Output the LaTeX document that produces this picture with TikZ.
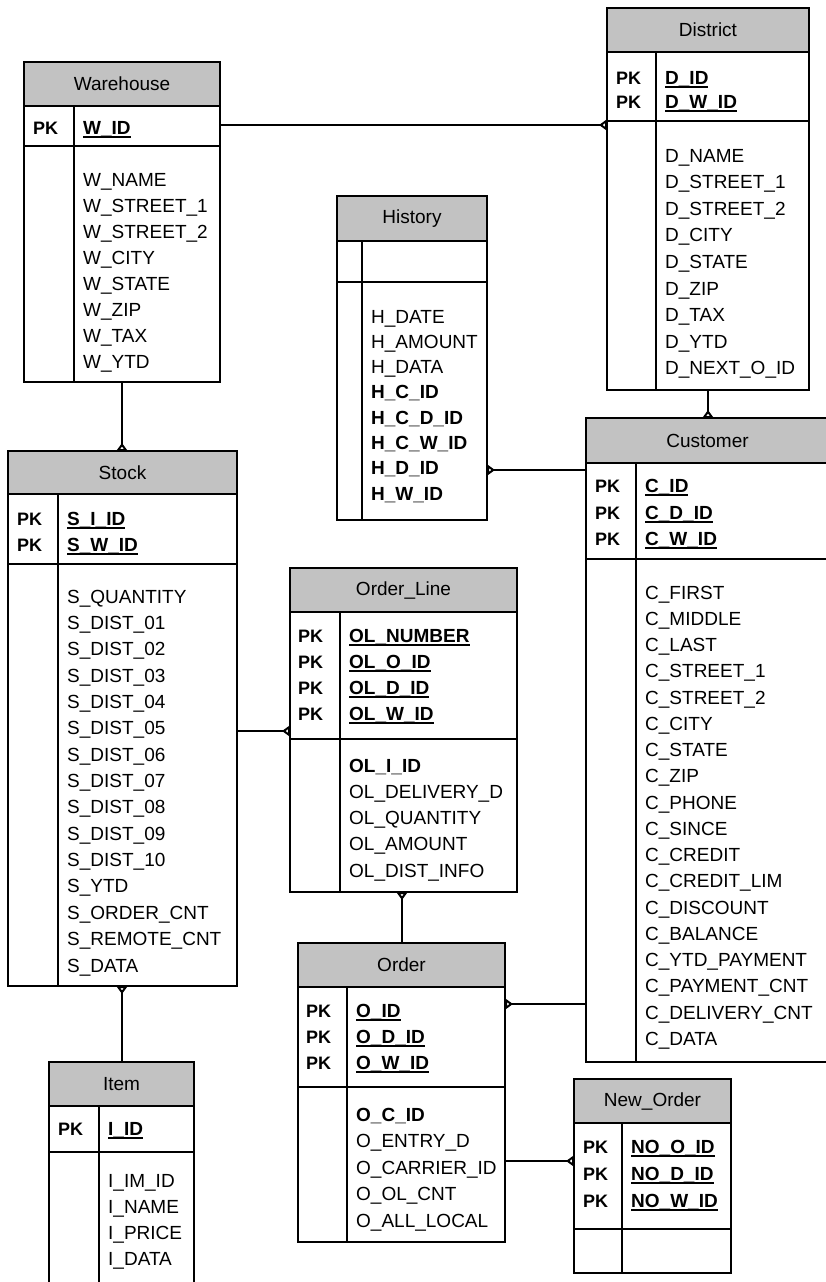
\documentclass[tikz,border=0pt]{standalone}
\usepackage{fontspec}
\setmainfont{Liberation Sans}
\usetikzlibrary{arrows.meta,fit}
\newcommand\ulk[1]{\setbox0\hbox{#1}\rlap{\rule[-4pt]{\wd0}{1.8pt}}\box0}
\tikzset{
 ent/.style={line width=1.8pt},
 ebox/.style={draw, line width=1.8pt, inner sep=0pt, outer sep=0pt},
 hdr/.style={fill=black!24},
 etitle/.style={font=\fontsize{19}{22}\selectfont, inner sep=0pt},
 txt/.style={font=\fontsize{19}{22}\selectfont, inner sep=0pt, anchor=base west},
 pk/.style={font=\fontsize{18}{22}\selectfont\bfseries, inner sep=0pt, anchor=base west},
 conn/.style={line width=1.8pt},
 cf/.style={-{Triangle[open,fill=white,reversed,length=8pt 0 0,width=11pt 0 0,line width=2pt]}},
}
% name, L, T, R, B, header bottom, key bottom, divider x, title
\newcommand\entity[9]{%
 \fill[hdr] (#2,#3) rectangle (#4,#6);
 \node[ebox, fit={(#2,#3) (#4,#5)}] (#1) {};
 \draw[ent] (#2,#6) -- (#4,#6) (#2,#7) -- (#4,#7) (#8,#6) -- (#8,#5);
 \node[etitle] (#1-title) at ({(#2+#4)/2},{(#3+#6)/2}) {#9};
}
% name, PK x, key x, list y/text
\newcommand\keys[4]{%
 \foreach \yy/\kk [count=\i] in {#4} {%
  \node[pk] (#1-pk\i) at (#2,\yy+7) {PK};
  \node[txt] (#1-k\i) at (#3,\yy+7) {\bfseries\ulk{\kk}};
 }%
}
% name, x, y0, step, list
\newcommand\attrs[5]{%
 \foreach \aa [count=\i] in {#5} {%
  \node[txt] (#1-a\i) at (#2,{#3+(\i-1)*#4+7}) {\aa};
 }%
}
\begin{document}
\begin{tikzpicture}[x=1pt,y=-1pt]
\useasboundingbox (0,0) rectangle (826,1282);
\fill[white] (0,0) rectangle (826,1282);
\clip (0,0) rectangle (826,1282);

% Warehouse
\entity{wh}{24}{62}{220}{382}{106}{146}{74}{Warehouse}
\keys{wh}{33}{83}{127/W\_ID}
\attrs{wh}{83}{179}{26}{W\_NAME, W\_STREET\_1, W\_STREET\_2, W\_CITY, W\_STATE, W\_ZIP, W\_TAX, W\_YTD}

% District
\entity{di}{607}{8}{809}{390}{52}{121}{656}{District}
\keys{di}{616}{665}{77/D\_ID, 101/D\_W\_ID}
\attrs{di}{665}{155}{26.6}{D\_NAME, D\_STREET\_1, D\_STREET\_2, D\_CITY, D\_STATE, D\_ZIP, D\_TAX, D\_YTD, D\_NEXT\_O\_ID}

% History
\entity{hi}{337}{196}{487}{520}{241}{282}{362}{History}
\attrs{hi}{371}{316}{25.3}{H\_DATE, H\_AMOUNT, H\_DATA, \textbf{H\_C\_ID}, \textbf{H\_C\_D\_ID}, \textbf{H\_C\_W\_ID}, \textbf{H\_D\_ID}, \textbf{H\_W\_ID}}

% Customer
\entity{cu}{586}{418}{829}{1062}{463}{559}{636}{Customer}
\keys{cu}{595}{645}{485/C\_ID, 512/C\_D\_ID, 538/C\_W\_ID}
\attrs{cu}{645}{592}{26.25}{C\_FIRST, C\_MIDDLE, C\_LAST, C\_STREET\_1, C\_STREET\_2, C\_CITY, C\_STATE, C\_ZIP, C\_PHONE, C\_SINCE, C\_CREDIT, C\_CREDIT\_LIM, C\_DISCOUNT, C\_BALANCE, C\_YTD\_PAYMENT, C\_PAYMENT\_CNT, C\_DELIVERY\_CNT, C\_DATA}

% Stock
\entity{st}{8}{451}{237}{986}{494}{564}{58}{Stock}
\keys{st}{17}{67}{518/S\_I\_ID, 544/S\_W\_ID}
\attrs{st}{67}{596}{26.36}{S\_QUANTITY, S\_DIST\_01, S\_DIST\_02, S\_DIST\_03, S\_DIST\_04, S\_DIST\_05, S\_DIST\_06, S\_DIST\_07, S\_DIST\_08, S\_DIST\_09, S\_DIST\_10, S\_YTD, S\_ORDER\_CNT, S\_REMOTE\_CNT, S\_DATA}

% Order_Line
\entity{ol}{290}{568}{517}{892}{612}{739}{340}{Order\_Line}
\keys{ol}{298}{349}{635/OL\_NUMBER, 661/OL\_O\_ID, 687/OL\_D\_ID, 713/OL\_W\_ID}
\attrs{ol}{349}{765}{26.25}{\textbf{OL\_I\_ID}, OL\_DELIVERY\_D, OL\_QUANTITY, OL\_AMOUNT, OL\_DIST\_INFO}

% Order
\entity{ord}{298}{943}{505}{1242}{987}{1087}{347}{Order}
\keys{ord}{306}{356}{1010/O\_ID, 1036/O\_D\_ID, 1062/O\_W\_ID}
\attrs{ord}{356}{1114}{26.5}{\textbf{O\_C\_ID}, O\_ENTRY\_D, O\_CARRIER\_ID, O\_OL\_CNT, O\_ALL\_LOCAL}

% New_Order
\entity{no}{574}{1079}{731}{1273}{1123}{1229}{622}{New\_Order}
\keys{no}{583}{631}{1146/NO\_O\_ID, 1173/NO\_D\_ID, 1200/NO\_W\_ID}

% Item
\entity{it}{49}{1062}{194}{1295}{1106}{1152}{99}{Item}
\keys{it}{58}{108}{1128/I\_ID}
\attrs{it}{108}{1180}{26.3}{I\_IM\_ID, I\_NAME, I\_PRICE, I\_DATA}

% Connectors
\draw[conn,cf] (wh.east |- 0,125) -- (di.west |- 0,125);
\draw[conn,cf] (122,0 |- wh.south) -- (122,0 |- st.north);
\draw[conn,cf] (708,0 |- di.south) -- (708,0 |- cu.north);
\draw[conn,cf] (cu.west |- 0,470) -- (hi.east |- 0,470);
\draw[conn,cf] (st.east |- 0,731) -- (ol.west |- 0,731);
\draw[conn,cf] (122,0 |- it.north) -- (122,0 |- st.south);
\draw[conn,cf] (402,0 |- ord.north) -- (402,0 |- ol.south);
\draw[conn,cf] (cu.west |- 0,1004) -- (ord.east |- 0,1004);
\draw[conn,cf] (ord.east |- 0,1161) -- (no.west |- 0,1161);
\end{tikzpicture}
\end{document}
